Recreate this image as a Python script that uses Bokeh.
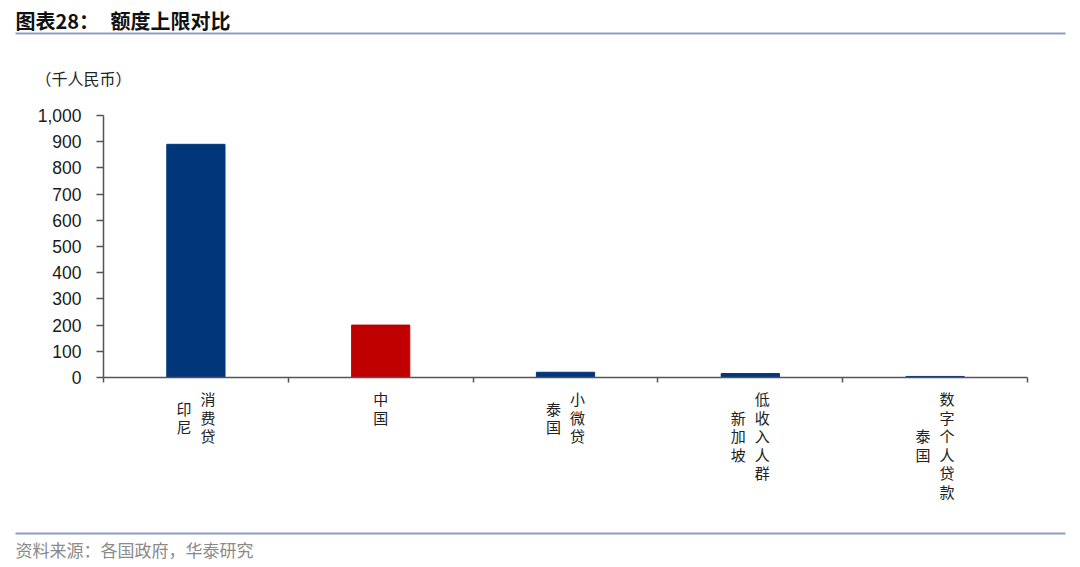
from bokeh.plotting import figure
from bokeh.layouts import column
from bokeh.models import Range1d, FixedTicker, NumeralTickFormatter, ColumnDataSource
from bokeh.core.properties import value
from bokeh.embed import file_html
from bokeh.resources import INLINE

# ---- data ----
categories = [["印尼", "消费贷"], ["中国"], ["泰国", "小微贷"], ["新加坡", "低收入人群"], ["泰国", "数字个人贷款"]]
values = [890, 200, 20, 15, 4]
colors = ["#00367a", "#c00000", "#00367a", "#00367a", "#00367a"]
y_ticks = [0, 100, 200, 300, 400, 500, 600, 700, 800, 900, 1000]
title_head = "图表28："
title_text = "额度上限对比"
unit_text = "（千人民币）"
source_text = "资料来源：各国政府，华泰研究"

W = 1072
FL, FR, FT, FB = 103, 1027, 115, 377   # plot-area edges in page pixels
TOP_H = 100      # header strip: page y 0..100
BOT_Y0 = 387     # footer strip starts here
H_TOTAL = 562
FONT = "Noto Sans CJK SC"
LINE_COLOR = "#8d9fbf"
N = len(values)
YMAX = 1000
XSCALE = N / (FR - FL)   # data units per pixel along x

def px2x(px):
    return (px - FL) * XSCALE

def strip(y0, y1):
    f = figure(width=W, height=y1 - y0, output_backend="svg", toolbar_location=None,
               x_range=Range1d(px2x(0), px2x(W)), y_range=Range1d(y1, y0),
               x_axis_type=None, y_axis_type=None, min_border=0)
    f.outline_line_color = None
    f.grid.visible = False
    f.frame_align = False
    return f

# ---- header ----
top = strip(0, TOP_H)
top.text(x=[px2x(15), px2x(110)], y=[20, 20], text=[title_head, title_text], text_font=value(FONT),
         text_font_size="20px", text_font_style="bold", text_color="#111111",
         text_baseline="middle", text_align="left")
top.segment(x0=[px2x(15)], x1=[px2x(1065)], y0=[33], y1=[33], line_color=LINE_COLOR, line_width=2)
top.text(x=[px2x(35)], y=[77], text=[unit_text], text_font=value(FONT), text_font_size="16px",
         text_color="#222222", text_baseline="middle", text_align="left")

# ---- main chart ----
p = figure(width=W, height=BOT_Y0 - TOP_H, output_backend="svg", toolbar_location=None,
           x_range=Range1d(0, N), y_range=Range1d(0, YMAX),
           min_border_left=FL, min_border_right=W - FR,
           min_border_top=FT - TOP_H, min_border_bottom=BOT_Y0 - FB)
p.outline_line_color = None
p.grid.visible = False
p.frame_align = False

xs = [i + 0.5 for i in range(N)]
src = ColumnDataSource(dict(x=xs, top=values, color=colors))
p.vbar(x="x", top="top", bottom=0, width=0.315, color="color", source=src)

p.yaxis.ticker = FixedTicker(ticks=y_ticks)
p.yaxis.formatter = NumeralTickFormatter(format="0,0")
p.yaxis.major_label_text_font = "Liberation Sans"
p.yaxis.major_label_text_font_size = "17.5px"
p.yaxis.major_label_text_color = "#1a1a1a"
p.yaxis.major_label_standoff = 15
p.yaxis.major_tick_in = 0
p.yaxis.major_tick_out = 7
p.yaxis.minor_tick_line_color = None
p.yaxis.axis_line_color = "#555555"
p.yaxis.axis_line_width = 1.5
p.yaxis.major_tick_line_color = "#555555"
p.yaxis.major_tick_line_width = 1.5

p.xaxis.ticker = FixedTicker(ticks=list(range(N + 1)))
p.xaxis.major_label_overrides = {i: "" for i in range(N + 1)}
p.xaxis.major_label_standoff = 0
p.xaxis.major_tick_in = 0
p.xaxis.major_tick_out = 5
p.xaxis.minor_tick_line_color = None
p.xaxis.axis_line_color = "#555555"
p.xaxis.axis_line_width = 1.5
p.xaxis.major_tick_line_color = "#555555"
p.xaxis.major_tick_line_width = 1.5

# ---- footer: category labels + source ----
bot = strip(BOT_Y0, H_TOTAL)
pitch = 18.5
col_gap = 24
top_py = 389
lx, ly, lt = [], [], []
for i, cols in enumerate(categories):
    m = max(len(c) for c in cols)
    ncol = len(cols)
    for j, col in enumerate(cols):
        off = (j - (ncol - 1) / 2) * col_gap
        n = len(col)
        for k, ch in enumerate(col):
            lx.append(xs[i] + off * XSCALE)
            ly.append(top_py + pitch * ((m - n) / 2 + k + 0.5))
            lt.append(ch)
bot.text(x=lx, y=ly, text=lt, text_font=value(FONT), text_font_size="15px",
         text_color="#222222", text_baseline="middle", text_align="center")
bot.segment(x0=[px2x(15)], x1=[px2x(1065)], y0=[533], y1=[533], line_color=LINE_COLOR, line_width=2)
bot.text(x=[px2x(15)], y=[549], text=[source_text], text_font=value(FONT), text_font_size="17px",
         text_color="#8a8a8a", text_baseline="middle", text_align="left")

layout = column(top, p, bot, spacing=0)
open("out.html", "w").write(file_html(layout, INLINE))
